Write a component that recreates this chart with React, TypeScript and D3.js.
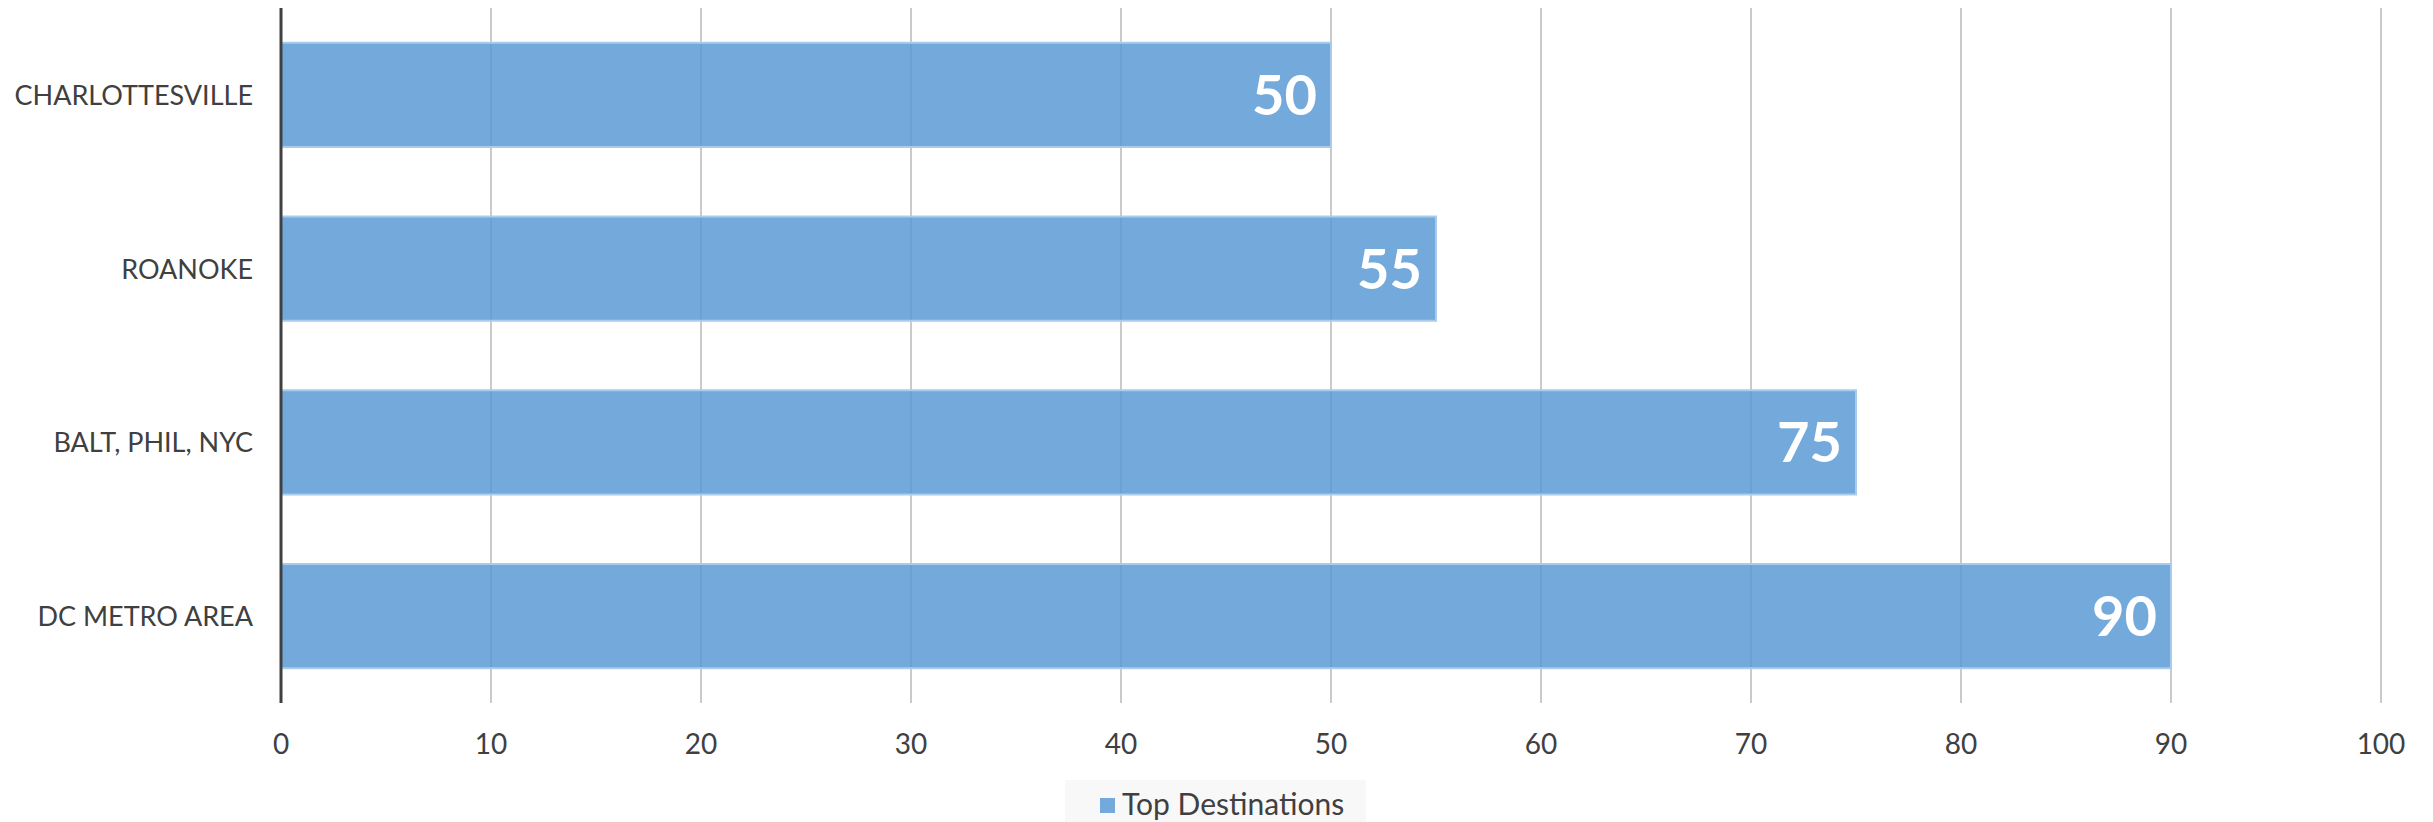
import React from 'react';
import * as d3 from 'd3';

// Chart data
const categories = ['CHARLOTTESVILLE', 'ROANOKE', 'BALT, PHIL, NYC', 'DC METRO AREA'];
const values = [50, 55, 75, 90];
const xTicks = [0, 10, 20, 30, 40, 50, 60, 70, 80, 90, 100];
const seriesName = 'Top Destinations';

const WIDTH = 2433;
const HEIGHT = 822;
const margin = { top: 8, right: 52, bottom: 119, left: 281 };
const FONT = 'Lato, "Open Sans", sans-serif';

const App: React.FC = () => {
  const x = d3.scaleLinear().domain([0, 100]).range([margin.left, WIDTH - margin.right]);
  const y = d3
    .scaleBand<string>()
    .domain(categories)
    .range([margin.top, HEIGHT - margin.bottom])
    .paddingInner(0.4)
    .paddingOuter(0.2);
  const plotBottom = HEIGHT - margin.bottom;

  return (
    <div style={{ position: 'absolute', left: 0, top: 0 }}>
      <svg width={WIDTH} height={HEIGHT} style={{ display: 'block', background: '#fff' }}>
        {/* vertical gridlines */}
        {xTicks.filter(t => t > 0).map(t => (
          <line key={t} x1={x(t)} x2={x(t)} y1={margin.top} y2={plotBottom} stroke="#b8b8b8" strokeWidth={1.5} />
        ))}

        {/* bars */}
        {categories.map((c, i) => (
          <rect
            key={c}
            x={x(0)}
            y={y(c)}
            width={x(values[i]) - x(0)}
            height={y.bandwidth()}
            fill="#5b9bd5"
            fillOpacity={0.85}
            stroke="#a9cbec"
            strokeWidth={2}
          />
        ))}

        {/* value labels */}
        {categories.map((c, i) => (
          <text
            key={c}
            x={x(values[i]) - 14}
            y={(y(c) ?? 0) + y.bandwidth() / 2 + 20}
            textAnchor="end"
            fill="#fff"
            fontFamily={FONT}
            fontWeight={700}
            fontSize={56}
          >
            {values[i]}
          </text>
        ))}

        {/* category axis */}
        <line x1={x(0)} x2={x(0)} y1={margin.top} y2={plotBottom} stroke="#404040" strokeWidth={3} />
        {categories.map(c => (
          <text
            key={c}
            x={x(0) - 28}
            y={(y(c) ?? 0) + y.bandwidth() / 2 + 10}
            textAnchor="end"
            fill="#404040"
            fontFamily={FONT}
            fontSize={27}
          >
            {c}
          </text>
        ))}

        {/* value axis labels */}
        {xTicks.map(t => (
          <text key={t} x={x(t)} y={754} textAnchor="middle" fill="#404040" fontFamily={FONT} fontSize={28}>
            {t}
          </text>
        ))}

        {/* legend */}
        <rect x={1065} y={780} width={301} height={42} fill="#f8f8f8" />
        <rect x={1100} y={798} width={15} height={15} fill="#74aadb" />
        <text x={1122} y={815} fill="#404040" fontFamily={FONT} fontSize={30}>
          {seriesName}
        </text>
      </svg>
    </div>
  );
};

export default App;
